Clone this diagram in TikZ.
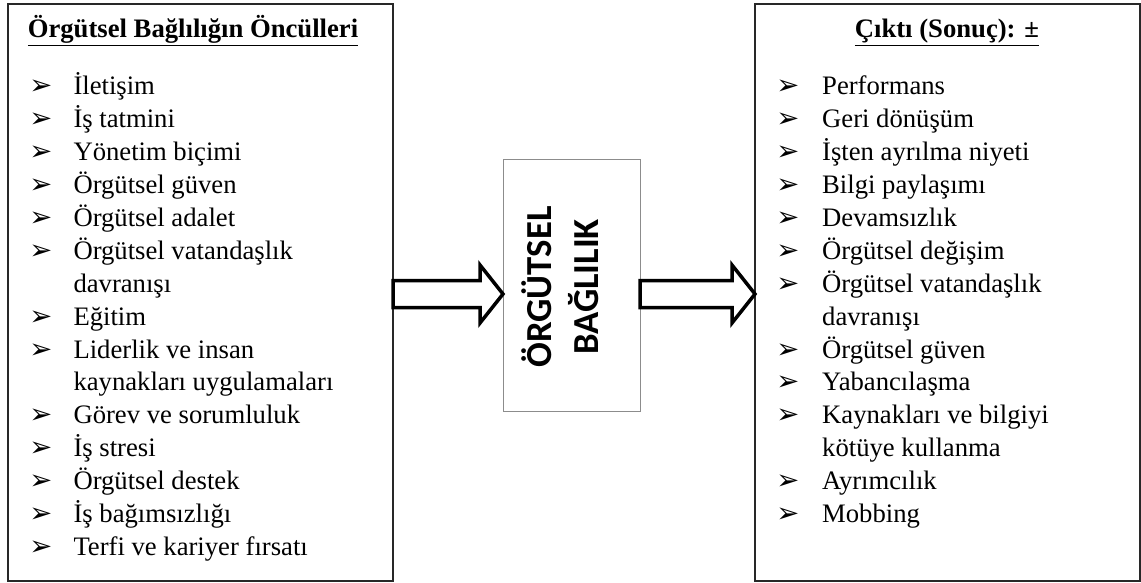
\documentclass[tikz,border=0pt]{standalone}
\usepackage{fontspec}
\setmainfont{Liberation Serif}
\newfontfamily\bulletfont{DejaVu Sans}
\newfontfamily\boldsans{Carlito}
\usetikzlibrary{calc}
\definecolor{frame}{RGB}{40,40,40}
\tikzset{
  listbox/.style={draw=frame,line width=0.9pt,inner sep=0pt,outer sep=0pt,minimum width=231pt,minimum height=346.2pt},
  corebox/.style={draw=gray!90,line width=0.6pt,inner sep=0pt,outer sep=0pt,minimum width=82.2pt,minimum height=151pt},
  heading/.style={font=\bfseries\fontsize{16}{18}\selectfont,inner sep=0pt,anchor=base},
  items/.style={inner sep=0pt,anchor=base west,font=\fontsize{16}{19.8}\selectfont},
  coretext/.style={rotate=90,align=center,font=\boldsans\bfseries\fontsize{22}{28.3}\selectfont,inner sep=0pt},
  fatarr/.style={draw=black,fill=white,line width=2.1pt,miter limit=10}
}
\newcommand{\bul}{{\bulletfont\fontsize{16.5}{16.5}\selectfont ➢}}
% block arrow from #1 to #2
\newcommand{\fatarrow}[2]{\draw[fatarr] ($(#1)+(0,13.5)$) -- ($(#2)+(-23,13.5)$) -- ($(#2)+(-23,29)$) -- (#2) -- ($(#2)+(-23,-29)$) -- ($(#2)+(-23,-13.5)$) -- ($(#1)+(0,-13.5)$) -- cycle;}

\begin{document}
\begin{tikzpicture}[x=0.6pt,y=0.6pt]
  \useasboundingbox (0,0) rectangle (1141,-582);
  \node[listbox] (lbox) at (200.5,-292.5) {};
  \node[listbox] (rbox) at (947.5,-292.5) {};
  \node[corebox] (mbox) at (571.5,-285.5) {};
  \node[coretext] (core) at (560,-287) {ÖRGÜTSEL\\BAĞLILIK};

  \node[heading] (lhead) at (193,-37) {\underline{Örgütsel Bağlılığın Öncülleri}};
  \node[heading] (rhead) at (947,-37) {\underline{Çıktı (Sonuç): ±}};

  \node[items] (llist) at (29,-94) {\begin{tabular}[t]{@{}p{26.5pt}@{}l@{}}
    \bul & İletişim\\
    \bul & İş tatmini\\
    \bul & Yönetim biçimi\\
    \bul & Örgütsel güven\\
    \bul & Örgütsel adalet\\
    \bul & Örgütsel vatandaşlık\\
         & davranışı\\
    \bul & Eğitim\\
    \bul & Liderlik ve insan\\
         & kaynakları uygulamaları\\
    \bul & Görev ve sorumluluk\\
    \bul & İş stresi\\
    \bul & Örgütsel destek\\
    \bul & İş bağımsızlığı\\
    \bul & Terfi ve kariyer fırsatı
  \end{tabular}};
  \node[items] (rlist) at (776,-94) {\begin{tabular}[t]{@{}p{27.5pt}@{}l@{}}
    \bul & Performans\\
    \bul & Geri dönüşüm\\
    \bul & İşten ayrılma niyeti\\
    \bul & Bilgi paylaşımı\\
    \bul & Devamsızlık\\
    \bul & Örgütsel değişim\\
    \bul & Örgütsel vatandaşlık\\
         & davranışı\\
    \bul & Örgütsel güven\\
    \bul & Yabancılaşma\\
    \bul & Kaynakları ve bilgiyi\\
         & kötüye kullanma\\
    \bul & Ayrımcılık\\
    \bul & Mobbing
  \end{tabular}};

  \coordinate (in1) at (lbox.east |- 0,-294); \coordinate (in2) at (mbox.west |- 0,-294);
  \coordinate (out1) at (mbox.east |- 0,-294); \coordinate (out2) at (rbox.west |- 0,-294);
  \fatarrow{in1}{in2}
  \fatarrow{out1}{out2}
\end{tikzpicture}
\end{document}
